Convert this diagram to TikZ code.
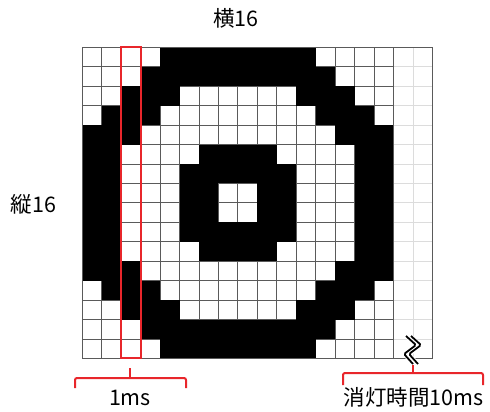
\documentclass[tikz,border=0pt]{standalone}
\usepackage{fontspec}
\newfontfamily\jp{Noto Sans CJK JP}
\definecolor{gridgray}{HTML}{5A5A5A}
\definecolor{lightgrid}{HTML}{DCDCDC}
\definecolor{brred}{HTML}{E8262B}
\tikzset{
  lbl/.style={font=\jp\fontsize{21.5}{24}\selectfont, inner sep=0pt},
  brk/.style={draw=brred, line width=2pt, rounded corners=2pt},
  redbox/.style={draw=brred, line width=2pt},
}
\begin{document}
\begin{tikzpicture}[x=1pt,y=-1pt]
\useasboundingbox (0,0) rectangle (490,412);
\def\xo{82.3}\def\yo{47.3}\def\cw{19.45}
% light extra columns
\foreach \i in {1,...,15} \draw[lightgrid, line width=0.9pt] (\xo+16*\cw,\yo+\i*\cw) -- (\xo+18*\cw,\yo+\i*\cw);
\draw[lightgrid, line width=0.9pt] (\xo+17*\cw,\yo) -- (\xo+17*\cw,\yo+16*\cw);
% main grid
\foreach \i in {1,...,15} {
  \draw[gridgray, line width=1pt] (\xo,\yo+\i*\cw) -- (\xo+16*\cw,\yo+\i*\cw);
  \draw[gridgray, line width=1pt] (\xo+\i*\cw,\yo) -- (\xo+\i*\cw,\yo+16*\cw);
}
% black cells
\foreach \r/\cs in {0/{4,5,6,7,8,9,10,11},1/{3,4,5,6,7,8,9,10,11,12},2/{2,3,4,11,12,13},3/{1,2,3,12,13,14},4/{0,1,2,13,14,15},5/{0,1,6,7,8,9,14,15},6/{0,1,5,6,7,8,9,10,14,15},7/{0,1,5,6,9,10,14,15}} {
  \foreach \c in \cs {
    \fill[black] (\xo+\c*\cw,\yo+\r*\cw) rectangle ++(\cw,\cw);
    \fill[black] (\xo+\c*\cw,\yo+15*\cw-\r*\cw) rectangle ++(\cw,\cw);
  }
}
% outer frame
\draw[gridgray, line width=1.1pt] (\xo,\yo) rectangle (\xo+18*\cw,\yo+16*\cw);
\draw[gridgray, line width=1.1pt] (\xo+16*\cw,\yo) -- (\xo+16*\cw,\yo+16*\cw);
% red column box
\draw[redbox] (\xo+2*\cw,\yo) rectangle (\xo+3*\cw,\yo+16*\cw-1);
% squiggle
\draw[white, line width=7pt] (409,337) -- (419,346) -- (406,354) -- (415,363);
\draw[black, line width=1.8pt, rounded corners=1.5pt] (406,336) -- (416,345) -- (404,354) -- (413,364);
\draw[black, line width=1.8pt, rounded corners=1.5pt] (411,336) -- (421,345) -- (409,354) -- (418,364);
% brackets
\coordinate (b1t) at (130,368);
\draw[brk] (75,388) -- (75,378) -- (186,378) -- (186,388);
\draw[brk] (130,378) -- (b1t);
\coordinate (b2t) at (413,365);
\draw[brk] (343,385) -- (343,373) -- (483,373) -- (483,385);
\draw[brk] (413,373) -- (b2t);
% labels
\node[lbl] (top) at (236,18) {横16};
\node[lbl] (left) at (33.5,204) {縦16};
\node[lbl] (ms1) at (130,398) {1ms};
\node[lbl] (ms10) at (413.5,397) {消灯時間10ms};
\end{tikzpicture}
\end{document}
